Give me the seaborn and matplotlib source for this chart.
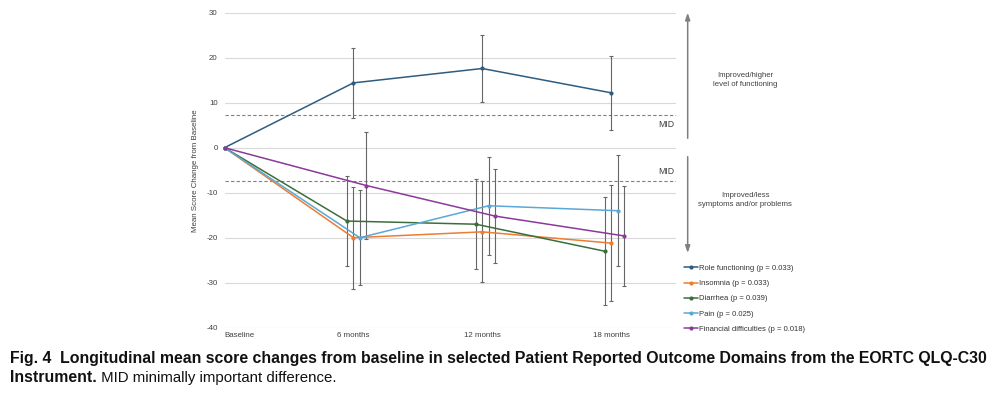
import numpy as np
import pandas as pd
import seaborn as sns
import matplotlib
matplotlib.use("Agg")
import matplotlib.pyplot as plt

# values (mean change from baseline and error half-widths)
timepoints = ["Baseline", "6 months", "12 months", "18 months"]
series_names = ["Role functioning (p = 0.033)", "Insomnia (p = 0.033)",
                "Diarrhea (p = 0.039)", "Pain (p = 0.025)",
                "Financial difficulties (p = 0.018)"]
role = [0, 14.4, 17.6, 12.2]
role_err = [0, 7.7, 7.4, 8.2]
insomnia = [0, -20.0, -18.7, -21.2]
insomnia_err = [0, 11.3, 11.2, 12.9]
diarrhea = [0, -16.3, -17.0, -23.0]
diarrhea_err = [0, 10.0, 10.0, 12.0]
pain = [0, -20.0, -12.9, -14.0]
pain_err = [0, 10.6, 10.9, 12.3]
financial = [0, -8.4, -15.2, -19.6]
financial_err = [0, 11.9, 10.5, 11.2]
mid = 7.3

colors = ["#2F5C7F", "#ED7D31", "#3B6E3A", "#5AA8D6", "#8B3A9A"]
dodge = [0, 0, -0.05, 0.05, 0.1]

sns.set_theme(style="white")
plt.rcParams['font.family'] = ['Liberation Sans', 'DejaVu Sans']
plt.rcParams['axes.unicode_minus'] = False

values = [role, insomnia, diarrhea, pain, financial]
errors = [role_err, insomnia_err, diarrhea_err, pain_err, financial_err]
rows = []
for name, vals, errs, off in zip(series_names, values, errors, dodge):
    for i, (v, e) in enumerate(zip(vals, errs)):
        rows.append({"series": name, "x": i + (off if i > 0 else 0), "value": v, "err": e})
df = pd.DataFrame(rows)

fig = plt.figure(figsize=(9.92, 3.94), dpi=100)
ax = fig.add_axes([224.5 / 992, 1 - 327.7 / 394, 451 / 992, 315 / 394])

ax.set_ylim(-40, 30)
ax.set_xlim(0, 3.5)
ax.set_yticks(np.arange(-40, 31, 10))
ax.yaxis.grid(True, color="#D9D9D9", lw=0.8)
ax.xaxis.grid(False)
for s in ax.spines.values():
    s.set_visible(False)

# error bars first so the lines sit on top
for name, col in zip(series_names, colors):
    d = df[(df.series == name) & (df.err > 0)]
    ax.errorbar(d.x, d.value, yerr=d.err, fmt="none", ecolor="#666666",
                elinewidth=0.8, capsize=1.5, capthick=0.8, zorder=2)

sns.lineplot(data=df, x="x", y="value", hue="series", hue_order=series_names,
             palette=colors, marker="o", markersize=3, markeredgewidth=0,
             linewidth=1.1, sort=False, ax=ax, zorder=3, clip_on=False)

# MID reference lines
ax.axhline(mid, color="#808080", lw=0.8, ls=(0, (3, 2)), zorder=1)
ax.axhline(-mid, color="#808080", lw=0.8, ls=(0, (3, 2)), zorder=1)
ax.text(3.49, mid - 1.1, "MID", ha="right", va="top", fontsize=6.3, color="#404040")
ax.text(3.49, -mid + 1.1, "MID", ha="right", va="bottom", fontsize=6.3, color="#404040")

fs_small = 5.7
ax.set_xticks(range(len(timepoints)))
ax.set_xticklabels(timepoints, fontsize=fs_small, color="#404040")
ax.get_xticklabels()[0].set_ha("left")
ax.tick_params(axis="both", length=0, pad=3)
ax.tick_params(axis="y", labelsize=fs_small, labelcolor="#404040", pad=5)
ax.set_xlabel("")
ax.set_ylabel("Mean Score Change from Baseline", fontsize=fs_small, color="#404040", labelpad=5)

# direction arrows at the right
arrow_kw = dict(arrowstyle="-|>,head_length=0.35,head_width=0.12",
                color="#7F7F7F", lw=1.1, shrinkA=0, shrinkB=0)
ax.annotate("", xy=(1.027, 30), xytext=(1.027, 2.1),
            xycoords=("axes fraction", "data"), arrowprops=arrow_kw)
ax.annotate("", xy=(1.027, -23.4), xytext=(1.027, -2),
            xycoords=("axes fraction", "data"), arrowprops=arrow_kw)
ax.text(1.155, 15, "Improved/higher\nlevel of functioning", transform=ax.get_yaxis_transform(),
        ha="center", va="center", fontsize=5.6, color="#404040", linespacing=1.3)
ax.text(1.155, -11.6, "Improved/less\nsymptoms and/or problems", transform=ax.get_yaxis_transform(),
        ha="center", va="center", fontsize=5.6, color="#404040", linespacing=1.3)

handles, labels = ax.get_legend_handles_labels()
ax.legend_.remove()
fig.legend(handles, labels, loc="upper left", bbox_to_anchor=(680 / 992, 1 - 261 / 394),
           frameon=False, fontsize=5.5, handlelength=1.8, handletextpad=0.2,
           labelspacing=1.02, borderpad=0, labelcolor="#333333")

# caption
cap_font = ['Liberation Sans Narrow', 'DejaVu Sans Condensed', 'Liberation Sans']
t1 = fig.text(10 / 992, 1 - 359 / 394,
              "Fig. 4  Longitudinal mean score changes from baseline in selected Patient Reported "
              "Outcome Domains from the EORTC QLQ-C30",
              fontsize=10, fontweight="bold", family=cap_font, va="center", color="#111111")
fig.canvas.draw()
w = t1.get_window_extent().width
fs = 10 * 978 / w
t1.set_fontsize(fs)
t2 = fig.text(10 / 992, 1 - 378 / 394, "Instrument.", fontsize=fs, fontweight="bold",
              family=cap_font, va="center", color="#111111")
fig.canvas.draw()
ax.annotate(" MID minimally important difference.", xy=(1, 0.5), xycoords=t2,
            va="center", ha="left", fontsize=fs * 0.95, family=cap_font, color="#111111",
            annotation_clip=False)

fig.savefig("out.png", dpi=100)
